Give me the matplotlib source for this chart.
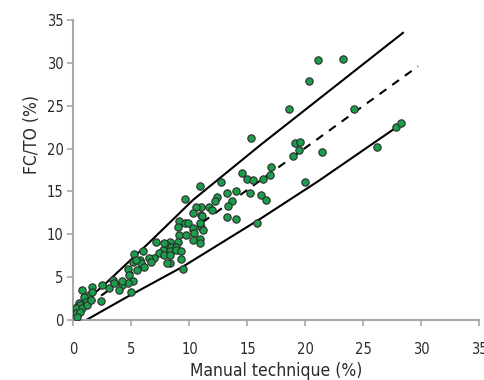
import matplotlib
matplotlib.use("Agg")
import matplotlib.pyplot as plt

plt.rcParams["font.family"] = ["DejaVu Sans"]
plt.rcParams["font.stretch"] = "condensed"

# scatter: manual technique (%) vs FC/TO (%)
manual = [
    21.1, 23.2, 20.3, 18.6, 24.2, 19.1, 19.5, 19.4, 18.9, 21.4, 17.0, 16.9, 16.3,
    26.2, 27.8, 28.2, 20.0, 16.2, 16.6, 15.3, 14.5, 15.0, 15.5, 12.7, 10.9, 13.2,
    14.0, 15.2, 9.65, 12.4, 12.2, 13.7, 13.3, 11.7, 11.9, 11.0, 11.0, 13.2, 14.0,
    15.8, 11.0,
    10.6, 10.3, 11.1, 9.1, 9.6, 9.9, 10.9, 9.0, 10.3, 11.15, 9.1, 9.7, 10.4, 10.9,
    10.3, 10.9, 9.0, 8.3, 7.1, 8.0, 8.4, 8.85, 7.7, 8.3, 8.85, 9.3, 7.4, 7.8, 8.3,
    6.9, 5.7, 6.0, 9.3, 8.3, 5.8, 6.1, 5.1, 9.4, 7.8, 8.1, 6.5, 6.7, 5.2, 5.4, 4.7,
    4.8, 5.1, 4.7, 5.0, 5.5, 4.2, 3.9, 3.4,
    0.76, 1.6, 2.5, 3.1, 2.4, 1.3, 1.6, 0.9, 1.06, 0.5, 0.33, 0.6, 0.19, 0.76, 1.2,
    0.19, 0.6, 0.33, 1.5, 3.5, 4.2,
]
fcto = [
    30.3, 30.5, 27.9, 24.6, 24.6, 20.6, 20.8, 19.8, 19.1, 19.6, 17.9, 16.9, 16.5,
    20.2, 22.5, 23.0, 16.1, 14.6, 14.0, 21.2, 17.1, 16.5, 16.3, 16.1, 15.6, 14.8,
    15.0, 14.8, 14.1, 14.3, 13.9, 13.9, 13.3, 13.2, 12.8, 13.2, 12.2, 12.0, 11.75,
    11.35, 10.9,
    13.2, 12.45, 12.1, 11.5, 11.35, 11.35, 11.3, 10.9, 10.7, 10.5, 9.9, 9.9, 10.1, 9.5,
    9.3, 8.95, 9.1, 9.1, 9.1, 8.8, 8.55, 8.55, 8.2, 8.05, 8.2, 8.05, 7.8, 7.6, 7.6,
    7.2, 7.0, 8.0, 7.1, 6.7, 6.6, 6.15, 6.8, 5.9, 8.95, 6.6, 7.2, 6.8, 7.7, 7.0, 6.0,
    5.25, 4.5, 4.3, 3.3, 5.8, 4.1, 3.5, 4.7,
    3.5, 3.8, 4.1, 3.7, 2.25, 2.9, 3.3, 2.7, 2.1, 1.95, 1.55, 1.75, 1.35, 1.35, 1.75,
    0.78, 0.97, 0.4, 2.3, 4.3, 4.5,
]

# fitted line and limits
fit_x = [0.2, 29.7]
fit_y = [0.7, 29.6]
upper_x = [0.2, 2.8, 6.5, 10.3, 16.1, 28.4]
upper_y = [1.2, 4.3, 9.0, 14.0, 20.4, 33.5]
lower_x = [1.1, 4.5, 9.4, 16.1, 21.1, 28.4]
lower_y = [0.0, 2.6, 6.2, 11.8, 16.2, 23.0]

x_ticks = [0, 5, 10, 15, 20, 25, 30, 35]
y_ticks = [0, 5, 10, 15, 20, 25, 30, 35]

GRAY = "#a8a8a8"
TEXT = "#2a2a2a"

fig = plt.figure(figsize=(4.85, 3.8), dpi=100)
ax = fig.add_axes([73.5 / 485, 1 - 320 / 380, 406 / 485, 300 / 380])

ax.plot(upper_x, upper_y, color="black", linewidth=1.5, zorder=2)
ax.plot(lower_x, lower_y, color="black", linewidth=1.5, zorder=2)
ax.plot(fit_x, fit_y, color="black", linewidth=1.5, dashes=(4, 3.5), zorder=2)
ax.scatter(manual, fcto, s=28, color="#1c9d4c", edgecolors="#2b2b2b",
           linewidths=0.8, zorder=3)

ax.set_xlim(0, 35)
ax.set_ylim(0, 35)
ax.set_xticks(x_ticks)
ax.set_yticks(y_ticks)

for side in ["top", "right"]:
    ax.spines[side].set_visible(False)
for side in ["left", "bottom"]:
    ax.spines[side].set_color(GRAY)
    ax.spines[side].set_linewidth(1.5)

ax.tick_params(axis="both", direction="out", length=4, width=1.2, color=GRAY,
               labelsize=10.5, labelcolor=TEXT)
ax.tick_params(axis="x", pad=12)
ax.tick_params(axis="y", pad=3)
for lab in ax.get_xticklabels() + ax.get_yticklabels():
    lab.set_fontstretch("condensed")

ax.set_xlabel("Manual technique (%)", fontsize=12.5, color=TEXT,
              fontstretch="condensed")
ax.set_ylabel("FC/TO (%)", fontsize=12.5, color=TEXT, fontstretch="condensed")
ax.xaxis.set_label_coords(0.5, -0.14)
ax.yaxis.set_label_coords(-0.08, 0.62)

fig.savefig("out.png", dpi=100)
